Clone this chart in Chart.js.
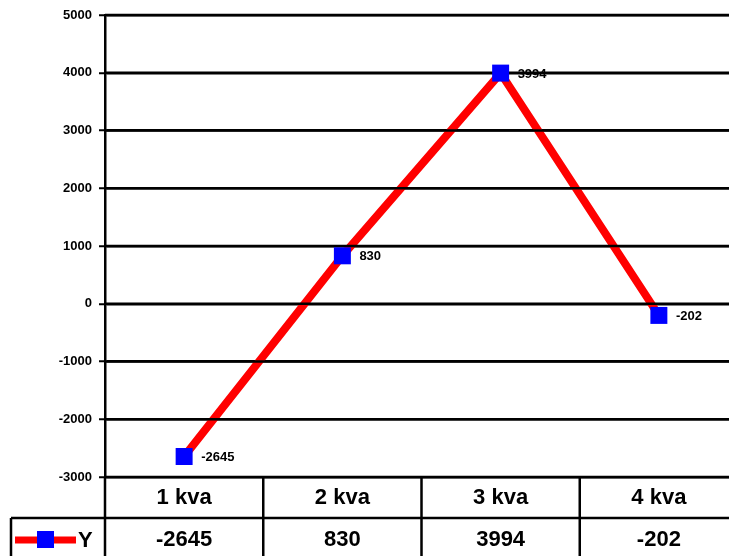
<!DOCTYPE html>
<html>
<head>
<meta charset="utf-8">
<script src="https://cdn.jsdelivr.net/npm/chart.js@4/dist/chart.umd.min.js"></script>
<style>
  html, body { margin: 0; padding: 0; background: #fff; overflow: hidden; }
  #wrap { width: 740px; height: 556px; }
  canvas { display: block; }
</style>
</head>
<body>
<div id="wrap"><canvas id="chart" width="740" height="556"></canvas></div>
<script>
// DATA
const categories = ['1 kva', '2 kva', '3 kva', '4 kva'];
const seriesName = 'Y';
const values = [-2645, 830, 3994, -202];
const yMin = -3000;
const yMax = 5000;
const yStep = 1000;

const FONT = '"Liberation Sans", Arial, Helvetica, sans-serif';
const RED = '#ff0000';
const BLUE = '#0000ff';
const GRID_W = 2.5;

// gridlines sit on top of the red line but under the markers
const gridOverLine = {
    id: 'gridOverLine',
    afterDatasetDraw(chart, args) {
        if (args.index !== 1) return;
        const ctx = chart.ctx;
        const y = chart.scales.y;
        const area = chart.chartArea;
        ctx.save();
        ctx.strokeStyle = '#000';
        ctx.lineWidth = GRID_W;
        y.ticks.forEach(t => {
            const py = y.getPixelForValue(t.value);
            ctx.beginPath();
            ctx.moveTo(area.left, py);
            ctx.lineTo(area.right, py);
            ctx.stroke();
        });
        ctx.restore();
    }
};

// point labels next to each marker
const valueLabels = {
    id: 'valueLabels',
    afterDatasetsDraw(chart) {
        const ctx = chart.ctx;
        const meta = chart.getDatasetMeta(0);
        ctx.save();
        ctx.font = 'bold 13px ' + FONT;
        ctx.fillStyle = '#000';
        ctx.textAlign = 'left';
        ctx.textBaseline = 'middle';
        meta.data.forEach((pt, i) => {
            ctx.fillText(String(values[i]), pt.x + 17, pt.y + 1);
        });
        ctx.restore();
    }
};

// data table under the plot
const dataTable = {
    id: 'dataTable',
    afterDraw(chart) {
        const ctx = chart.ctx;
        const x = chart.scales.x;
        const area = chart.chartArea;
        const top = area.bottom;
        const mid = top + 41;
        const bottom = chart.height + 2;
        const band = (x.getPixelForValue(1) - x.getPixelForValue(0));
        const legendLeft = 11;

        ctx.save();
        ctx.strokeStyle = '#000';
        ctx.lineWidth = GRID_W;

        // horizontal line between label row and value row
        ctx.beginPath();
        ctx.moveTo(legendLeft, mid);
        ctx.lineTo(area.right, mid);
        ctx.stroke();

        // verticals
        ctx.beginPath();
        ctx.moveTo(legendLeft, mid);
        ctx.lineTo(legendLeft, bottom);
        for (let i = 0; i <= categories.length; i++) {
            const px = x.getPixelForValue(i) - band / 2;
            ctx.moveTo(px, top);
            ctx.lineTo(px, bottom);
        }
        ctx.stroke();

        // text
        ctx.fillStyle = '#000';
        ctx.font = 'bold 22px ' + FONT;
        ctx.textAlign = 'center';
        ctx.textBaseline = 'middle';
        categories.forEach((c, i) => {
            const px = x.getPixelForValue(i);
            ctx.fillText(c, px, top + 21);
            ctx.fillText(String(values[i]), px, mid + 22);
        });

        // legend key
        const ly = mid + 22;
        ctx.strokeStyle = RED;
        ctx.lineWidth = 7;
        ctx.beginPath();
        ctx.moveTo(15, ly);
        ctx.lineTo(76, ly);
        ctx.stroke();
        ctx.fillStyle = BLUE;
        ctx.fillRect(37, ly - 9, 17, 17);
        ctx.fillStyle = '#000';
        ctx.textAlign = 'left';
        ctx.fillText(seriesName, 78, ly + 1);
        ctx.restore();
    }
};

new Chart(document.getElementById('chart'), {
    type: 'line',
    data: {
        labels: categories,
        datasets: [{
            // markers (drawn last)
            label: seriesName,
            data: values,
            showLine: false,
            pointStyle: 'rect',
            pointRadius: 12,
            pointHoverRadius: 12,
            pointBorderWidth: 0,
            pointBackgroundColor: BLUE,
            pointBorderColor: BLUE
        }, {
            // red line
            label: seriesName,
            data: values,
            borderColor: RED,
            borderWidth: 8,
            tension: 0,
            pointRadius: 0,
            pointHoverRadius: 0
        }]
    },
    options: {
        responsive: false,
        animation: false,
        // chart area runs past the right edge of the window, as in the reference
        layout: { autoPadding: false, padding: { top: 15, right: 2, bottom: 79, left: 0 } },
        plugins: {
            legend: { display: false },
            tooltip: { enabled: false }
        },
        scales: {
            x: {
                display: false,
                offset: true
            },
            y: {
                min: yMin,
                max: yMax,
                afterFit(scale) { scale.width = 105; },
                border: { color: '#000', width: 2.5 },
                grid: {
                    color: '#000',
                    lineWidth: GRID_W,
                    tickLength: 6,
                    tickColor: '#000',
                    tickWidth: 2
                },
                ticks: {
                    stepSize: yStep,
                    padding: 7,
                    color: '#000',
                    font: { family: FONT, size: 13, weight: 'bold' },
                    callback: (v) => String(v)
                }
            }
        }
    },
    plugins: [gridOverLine, valueLabels, dataTable]
});
</script>
</body>
</html>
